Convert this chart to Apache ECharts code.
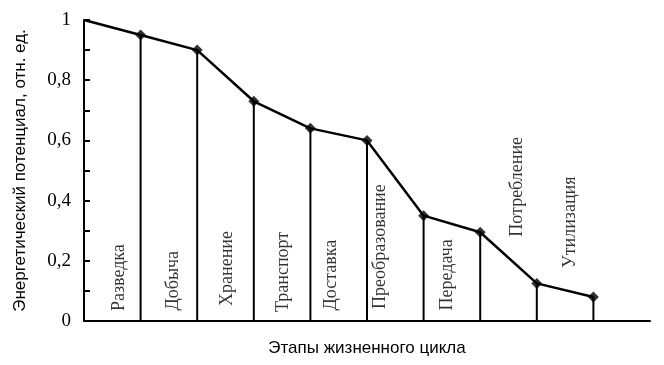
<!DOCTYPE html>
<html><head><meta charset="utf-8">
<script src="https://cdn.jsdelivr.net/npm/echarts@6/dist/echarts.min.js"></script>
<style>html,body{margin:0;padding:0;background:#fff}#c{width:664px;height:365px}</style>
</head><body><div id="c"></div>
<script>
const stages = ['Разведка','Добыча','Хранение','Транспорт','Доставка','Преобразование','Передача','Потребление','Утилизация'];
const startValue = 1.0;
const values = [0.95, 0.90, 0.73, 0.64, 0.60, 0.35, 0.295, 0.125, 0.08];
const labelX = [0.62, 1.57, 2.54, 3.52, 4.36, 5.23, 6.41, 7.65, 8.59];
const labelY = [0.033, 0.035, 0.05, 0.03, 0.035, 0.04, 0.035, 0.28, 0.176];
const yTicks = [0, 0.2, 0.4, 0.6, 0.8, 1];

const linePts = [[0, startValue]].concat(values.map((v,i)=>[i+1, v]));
const markerPts = values.map((v,i)=>[i+1, v]);
const serif = '"Liberation Serif", "Times New Roman", serif';
const sans = '"Liberation Sans", Arial, sans-serif';

const chart = echarts.init(document.getElementById('c'));
chart.setOption({
  animation:false,
  grid:{left:84, top:20, width:566, height:301},
  xAxis:{type:'value', min:0, max:10, interval:1,
    axisLine:{show:true, lineStyle:{color:'#000', width:2}},
    axisTick:{show:false}, axisLabel:{show:false}, splitLine:{show:false},
    name:'Этапы жизненного цикла', nameLocation:'middle', nameGap:19,
    nameTextStyle:{fontFamily:sans, fontSize:17, color:'#000'}},
  yAxis:{type:'value', min:0, max:1, interval:0.1,
    axisLine:{show:true, lineStyle:{color:'#000', width:2}},
    axisTick:{show:true, inside:true, length:6, lineStyle:{color:'#000', width:2}},
    splitLine:{show:false},
    axisLabel:{margin:13, fontFamily:serif, fontSize:19, color:'#000',
      formatter:function(v){
        const r = Math.round(v*10)/10;
        for (const t of yTicks) if (Math.abs(t-r)<1e-6) return String(t).replace('.',',');
        return '';
      }},
    name:'Энергетический потенциал, отн. ед.', nameLocation:'middle', nameGap:55,
    nameTextStyle:{fontFamily:sans, fontSize:17, color:'#000'}},
  series:[
    {type:'custom', renderItem:function(params, api){
        const top = api.coord([api.value(0), api.value(1)]);
        const bot = api.coord([api.value(0), 0]);
        return {type:'line', shape:{x1:top[0],y1:top[1],x2:bot[0],y2:bot[1]},
          style:{stroke:'#000', lineWidth:2}};
      }, data:markerPts, z:1},
    {type:'line', data:linePts, showSymbol:false, symbol:'none',
      lineStyle:{color:'#000', width:2.5}, z:2},
    {type:'scatter', data:markerPts, symbol:'diamond', symbolSize:11,
      itemStyle:{color:'#000'}, z:3},
    {type:'scatter', symbolSize:0, z:4,
      data: stages.map((s,i)=>({value:[labelX[i], labelY[i]], name:s})),
      label:{show:true, position:'inside', rotate:90, align:'left', verticalAlign:'middle',
        formatter:function(p){return p.name;}, fontFamily:serif, fontSize:18, color:'#000'}}
  ]
});
</script></body></html>
